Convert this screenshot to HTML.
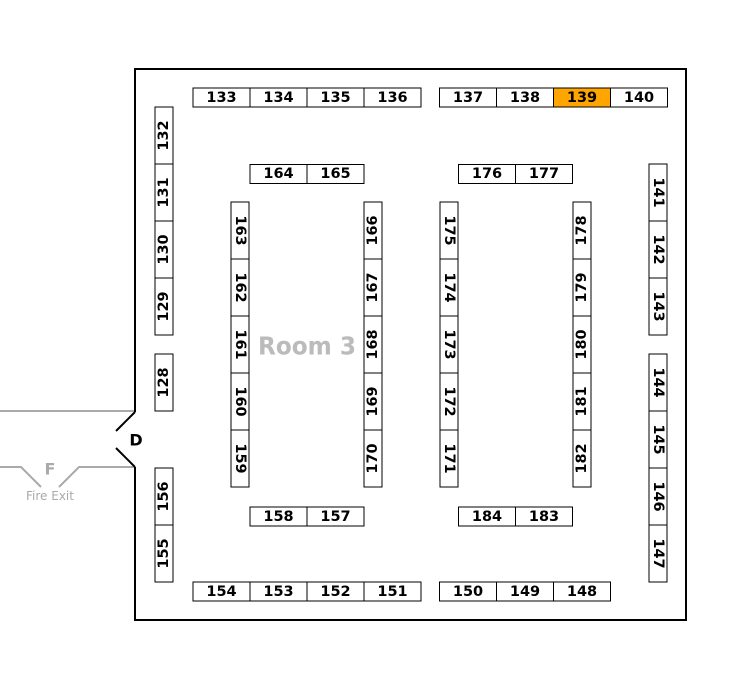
<!DOCTYPE html>
<html><head><meta charset="utf-8"><style>
html,body{margin:0;padding:0;background:#fff;}
svg{display:block;}
text{font-family:"DejaVu Sans","Liberation Sans",sans-serif;font-weight:bold;}
.b{fill:#fff;stroke:#000;stroke-width:1;}
.t{font-size:14.5px;fill:#000;text-anchor:middle;dominant-baseline:central;}
</style></head><body>
<svg width="755" height="689" viewBox="0 0 755 689" xmlns="http://www.w3.org/2000/svg">
<g stroke="#aaa" stroke-width="2" fill="none">
<line x1="0" y1="411" x2="135" y2="411"/>
<polyline points="0,467 21,467 41,487"/>
<polyline points="59,487 79,467 135,467"/>
</g>
<text x="50" y="469" font-size="16" fill="#aaa" text-anchor="middle" dominant-baseline="central">F</text>
<text x="50" y="496" font-size="12" fill="#aaa" text-anchor="middle" dominant-baseline="central" style="font-weight:normal">Fire Exit</text>
<g stroke="#000" stroke-width="2" fill="none">
<polyline points="135,412 135,69 686,69 686,620 135,620 135,467"/>
<line x1="135" y1="412" x2="116" y2="431"/>
<line x1="116" y1="448" x2="135" y2="467"/>
</g>
<text x="136" y="440" style="font-size:16px" class="t">D</text>
<text x="307" y="346" font-size="25" fill="#bbb" text-anchor="middle" dominant-baseline="central" textLength="98" lengthAdjust="spacingAndGlyphs">Room 3</text>

<g>
<rect class="b" x="193" y="88" width="57" height="19"/><text class="t" x="221.5" y="98">133</text>
<rect class="b" x="250" y="88" width="57" height="19"/><text class="t" x="278.5" y="98">134</text>
<rect class="b" x="307" y="88" width="57" height="19"/><text class="t" x="335.5" y="98">135</text>
<rect class="b" x="364" y="88" width="57" height="19"/><text class="t" x="392.5" y="98">136</text>
<rect class="b" x="439.5" y="88" width="57" height="19"/><text class="t" x="468" y="98">137</text>
<rect class="b" x="496.5" y="88" width="57" height="19"/><text class="t" x="525" y="98">138</text>
<rect x="553.5" y="88" width="57" height="19" fill="#FFA500" stroke="#000"/><text class="t" x="582" y="98">139</text>
<rect class="b" x="610.5" y="88" width="57" height="19"/><text class="t" x="639" y="98">140</text>

<rect class="b" x="250" y="164.5" width="57" height="19"/><text class="t" x="278.5" y="174">164</text>
<rect class="b" x="307" y="164.5" width="57" height="19"/><text class="t" x="335.5" y="174">165</text>
<rect class="b" x="458.5" y="164.5" width="57" height="19"/><text class="t" x="487" y="174">176</text>
<rect class="b" x="515.5" y="164.5" width="57" height="19"/><text class="t" x="544" y="174">177</text>

<rect class="b" x="250" y="507" width="57" height="19"/><text class="t" x="278.5" y="517">158</text>
<rect class="b" x="307" y="507" width="57" height="19"/><text class="t" x="335.5" y="517">157</text>
<rect class="b" x="458.5" y="507" width="57" height="19"/><text class="t" x="487" y="517">184</text>
<rect class="b" x="515.5" y="507" width="57" height="19"/><text class="t" x="544" y="517">183</text>

<rect class="b" x="193" y="582" width="57" height="19"/><text class="t" x="221.5" y="592">154</text>
<rect class="b" x="250" y="582" width="57" height="19"/><text class="t" x="278.5" y="592">153</text>
<rect class="b" x="307" y="582" width="57" height="19"/><text class="t" x="335.5" y="592">152</text>
<rect class="b" x="364" y="582" width="57" height="19"/><text class="t" x="392.5" y="592">151</text>
<rect class="b" x="439.5" y="582" width="57" height="19"/><text class="t" x="468" y="592">150</text>
<rect class="b" x="496.5" y="582" width="57" height="19"/><text class="t" x="525" y="592">149</text>
<rect class="b" x="553.5" y="582" width="57" height="19"/><text class="t" x="582" y="592">148</text>
</g>

<g>
<rect class="b" x="155" y="107" width="18" height="57"/><text class="t" transform="translate(164,135.5) rotate(-90)">132</text>
<rect class="b" x="155" y="164" width="18" height="57"/><text class="t" transform="translate(164,192.5) rotate(-90)">131</text>
<rect class="b" x="155" y="221" width="18" height="57"/><text class="t" transform="translate(164,249.5) rotate(-90)">130</text>
<rect class="b" x="155" y="278" width="18" height="57"/><text class="t" transform="translate(164,306.5) rotate(-90)">129</text>
<rect class="b" x="155" y="354" width="18" height="57"/><text class="t" transform="translate(164,382.5) rotate(-90)">128</text>
<rect class="b" x="155" y="468" width="18" height="57"/><text class="t" transform="translate(164,496.5) rotate(-90)">156</text>
<rect class="b" x="155" y="525" width="18" height="57"/><text class="t" transform="translate(164,553.5) rotate(-90)">155</text>
</g>
<g>
<rect class="b" x="231" y="202" width="18" height="57"/><text class="t" transform="translate(240,230.5) rotate(90)">163</text>
<rect class="b" x="231" y="259" width="18" height="57"/><text class="t" transform="translate(240,287.5) rotate(90)">162</text>
<rect class="b" x="231" y="316" width="18" height="57"/><text class="t" transform="translate(240,344.5) rotate(90)">161</text>
<rect class="b" x="231" y="373" width="18" height="57"/><text class="t" transform="translate(240,401.5) rotate(90)">160</text>
<rect class="b" x="231" y="430" width="18" height="57"/><text class="t" transform="translate(240,458.5) rotate(90)">159</text>
</g>
<g>
<rect class="b" x="364" y="202" width="18" height="57"/><text class="t" transform="translate(373,230.5) rotate(-90)">166</text>
<rect class="b" x="364" y="259" width="18" height="57"/><text class="t" transform="translate(373,287.5) rotate(-90)">167</text>
<rect class="b" x="364" y="316" width="18" height="57"/><text class="t" transform="translate(373,344.5) rotate(-90)">168</text>
<rect class="b" x="364" y="373" width="18" height="57"/><text class="t" transform="translate(373,401.5) rotate(-90)">169</text>
<rect class="b" x="364" y="430" width="18" height="57"/><text class="t" transform="translate(373,458.5) rotate(-90)">170</text>
</g>
<g>
<rect class="b" x="440" y="202" width="18" height="57"/><text class="t" transform="translate(449,230.5) rotate(90)">175</text>
<rect class="b" x="440" y="259" width="18" height="57"/><text class="t" transform="translate(449,287.5) rotate(90)">174</text>
<rect class="b" x="440" y="316" width="18" height="57"/><text class="t" transform="translate(449,344.5) rotate(90)">173</text>
<rect class="b" x="440" y="373" width="18" height="57"/><text class="t" transform="translate(449,401.5) rotate(90)">172</text>
<rect class="b" x="440" y="430" width="18" height="57"/><text class="t" transform="translate(449,458.5) rotate(90)">171</text>
</g>
<g>
<rect class="b" x="573" y="202" width="18" height="57"/><text class="t" transform="translate(582,230.5) rotate(-90)">178</text>
<rect class="b" x="573" y="259" width="18" height="57"/><text class="t" transform="translate(582,287.5) rotate(-90)">179</text>
<rect class="b" x="573" y="316" width="18" height="57"/><text class="t" transform="translate(582,344.5) rotate(-90)">180</text>
<rect class="b" x="573" y="373" width="18" height="57"/><text class="t" transform="translate(582,401.5) rotate(-90)">181</text>
<rect class="b" x="573" y="430" width="18" height="57"/><text class="t" transform="translate(582,458.5) rotate(-90)">182</text>
</g>
<g>
<rect class="b" x="649" y="164" width="18" height="57"/><text class="t" transform="translate(658,192.5) rotate(90)">141</text>
<rect class="b" x="649" y="221" width="18" height="57"/><text class="t" transform="translate(658,249.5) rotate(90)">142</text>
<rect class="b" x="649" y="278" width="18" height="57"/><text class="t" transform="translate(658,306.5) rotate(90)">143</text>
<rect class="b" x="649" y="354" width="18" height="57"/><text class="t" transform="translate(658,382.5) rotate(90)">144</text>
<rect class="b" x="649" y="411" width="18" height="57"/><text class="t" transform="translate(658,439.5) rotate(90)">145</text>
<rect class="b" x="649" y="468" width="18" height="57"/><text class="t" transform="translate(658,496.5) rotate(90)">146</text>
<rect class="b" x="649" y="525" width="18" height="57"/><text class="t" transform="translate(658,553.5) rotate(90)">147</text>
</g>
</svg>
</body></html>
